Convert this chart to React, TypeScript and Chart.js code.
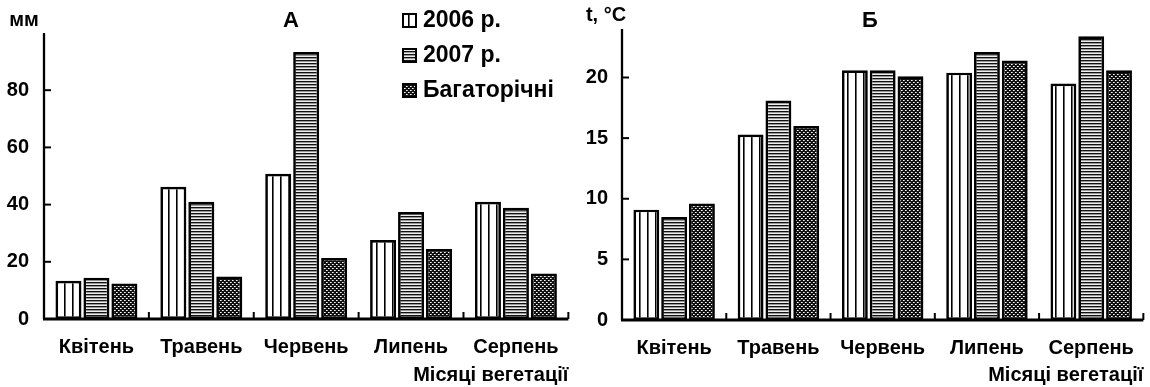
import React, { useEffect, useRef } from 'react';
import { Chart, registerables } from 'chart.js';

Chart.register(...registerables);

const months = ['Квітень', 'Травень', 'Червень', 'Липень', 'Серпень'];
const seriesNames = ['2006 р.', '2007 р.', 'Багаторічні'];

// A: precipitation, mm
const precip2006 = [13.4, 46.2, 50.8, 27.6, 41.0];
const precip2007 = [14.4, 41.0, 93.4, 37.4, 38.9];
const precipNorm = [12.4, 14.9, 21.3, 24.5, 15.9];
const precipTicks = [0, 20, 40, 60, 80];

// Б: temperature, °C
const temp2006 = [9.1, 15.3, 20.6, 20.4, 19.5];
const temp2007 = [8.5, 18.1, 20.6, 22.1, 23.4];
const tempNorm = [9.6, 16.0, 20.1, 21.4, 20.6];
const tempTicks = [0, 5, 10, 15, 20];

const FONT = "'Liberation Sans', Arial, sans-serif";

function makePattern(kind: number): CanvasPattern | string {
  const c = document.createElement('canvas');
  const g = c.getContext('2d');
  if (!g) return '#888';
  if (kind === 0) {
    c.width = 8; c.height = 1;
    g.fillStyle = '#fff'; g.fillRect(0, 0, 8, 1);
    g.fillStyle = '#000'; g.fillRect(0, 0, 1, 1);
    g.fillStyle = '#666'; g.fillRect(1, 0, 1, 1);
  } else if (kind === 1) {
    c.width = 1; c.height = 3;
    g.fillStyle = '#111'; g.fillRect(0, 0, 1, 1);
    g.fillStyle = '#999'; g.fillRect(0, 1, 1, 1);
    g.fillStyle = '#eee'; g.fillRect(0, 2, 1, 1);
  } else {
    c.width = 4; c.height = 4;
    g.fillStyle = '#111'; g.fillRect(0, 0, 4, 4);
    g.fillStyle = '#fff'; g.fillRect(0, 0, 1, 1); g.fillRect(2, 2, 1, 1);
    g.fillStyle = '#aaa'; g.fillRect(1, 0, 1, 1); g.fillRect(3, 2, 1, 1);
  }
  const p = g.createPattern(c, 'repeat');
  return p || '#888';
}

type Texts = { x: number; y: number; text: string; size: number; align?: CanvasTextAlign }[];

function decorPlugin(yTicks: number[], texts: Texts, legend: boolean, patterns: any[]) {
  return {
    id: 'decor',
    afterDraw(chart: any) {
      const { ctx, chartArea } = chart;
      const { left, right, top, bottom } = chartArea;
      const ys = chart.scales.y;
      const xs = chart.scales.x;
      ctx.save();
      ctx.strokeStyle = '#000';
      ctx.lineCap = 'butt';
      // y axis
      ctx.lineWidth = 2.3;
      ctx.beginPath(); ctx.moveTo(left, top); ctx.lineTo(left, bottom); ctx.stroke();
      ctx.lineWidth = 2;
      yTicks.forEach((v) => {
        if (v === 0) return;
        const py = ys.getPixelForValue(v);
        ctx.beginPath(); ctx.moveTo(left, py); ctx.lineTo(left + 7, py); ctx.stroke();
      });
      // x axis
      ctx.lineWidth = 2.8;
      ctx.beginPath(); ctx.moveTo(left - 1, bottom); ctx.lineTo(right, bottom); ctx.stroke();
      ctx.lineWidth = 2;
      for (let i = 1; i <= months.length; i++) {
        const px = xs.getPixelForValue(i - 0.5);
        ctx.beginPath(); ctx.moveTo(px, bottom); ctx.lineTo(px, bottom - 7); ctx.stroke();
      }
      // texts
      ctx.fillStyle = '#000';
      ctx.textBaseline = 'middle';
      texts.forEach((t) => {
        ctx.font = `bold ${t.size}px ${FONT}`;
        ctx.textAlign = t.align || 'center';
        ctx.fillText(t.text, t.x, t.y);
      });
      if (legend) {
        const rows = [20, 55, 90];
        seriesNames.forEach((name, i) => {
          const bx = 402, by = rows[i] - 7, bs = 15;
          ctx.fillStyle = patterns[i];
          ctx.fillRect(bx, by, bs, bs);
          ctx.lineWidth = 2;
          ctx.strokeStyle = '#000';
          ctx.strokeRect(bx + 1, by + 1, bs - 2, bs - 2);
          ctx.fillStyle = '#000';
          ctx.font = `bold 23px ${FONT}`;
          ctx.textAlign = 'left';
          ctx.fillText(name, 423, rows[i] + 1);
        });
      }
      ctx.restore();
    },
  };
}

function buildConfig(
  series: number[][],
  max: number,
  step: number,
  yTicks: number[],
  dims: { yWidth: number; xHeight: number; top: number; right: number; tickPad: number },
  texts: Texts,
  legend: boolean
) {
  const patterns = [makePattern(0), makePattern(1), makePattern(2)];
  return {
    type: 'bar' as const,
    data: {
      labels: months,
      datasets: series.map((d, i) => ({
        label: seriesNames[i],
        data: d,
        backgroundColor: patterns[i],
        borderColor: '#000',
        borderWidth: 2.7,
        borderSkipped: false,
        categoryPercentage: 0.8,
        barPercentage: 0.93,
      })),
    },
    options: {
      responsive: false,
      animation: false,
      events: [],
      layout: { padding: { left: 0, top: dims.top, right: dims.right, bottom: 0 } },
      plugins: { legend: { display: false }, tooltip: { enabled: false }, title: { display: false } },
      scales: {
        x: {
          grid: { display: false, drawTicks: false },
          border: { display: false },
          ticks: { color: '#000', font: { family: FONT, size: 20, weight: 'bold' }, padding: 16, maxRotation: 0, autoSkip: false },
          title: {
            display: true,
            text: 'Місяці вегетації',
            align: 'end',
            color: '#000',
            font: { family: FONT, size: 20, weight: 'bold' },
            padding: { top: 0, bottom: 0 },
          },
          afterFit: (s: any) => { s.height = dims.xHeight; },
        },
        y: {
          min: 0,
          max,
          grid: { display: false, drawTicks: false },
          border: { display: false },
          ticks: { stepSize: step, color: '#000', font: { family: FONT, size: 20, weight: 'bold' }, padding: dims.tickPad },
          afterBuildTicks: (s: any) => { s.ticks = s.ticks.filter((t: any) => yTicks.includes(t.value)); },
          afterFit: (s: any) => { s.width = dims.yWidth; },
        },
      },
    },
    plugins: [decorPlugin(yTicks, texts, legend, patterns)],
  };
}

function ChartCanvas({ cfg }: { cfg: () => any }) {
  const ref = useRef<HTMLCanvasElement | null>(null);
  useEffect(() => {
    if (!ref.current) return;
    const chart = new Chart(ref.current, cfg());
    return () => chart.destroy();
  }, []);
  return <canvas ref={ref} width={575} height={387} style={{ width: 575, height: 387, display: 'block' }} />;
}

export default function App() {
  const cfgA = () =>
    buildConfig(
      [precip2006, precip2007, precipNorm],
      100,
      20,
      precipTicks,
      { yWidth: 44, xHeight: 68, top: 33, right: 4, tickPad: 15 },
      [
        { x: 24, y: 20, text: 'мм', size: 20 },
        { x: 291, y: 21, text: 'А', size: 22 },
      ],
      true
    );
  const cfgB = () =>
    buildConfig(
      [temp2006, temp2007, tempNorm],
      24,
      5,
      tempTicks,
      { yWidth: 47, xHeight: 67, top: 29, right: 1, tickPad: 14 },
      [
        { x: 31, y: 15, text: 't, °C', size: 20 },
        { x: 295, y: 21, text: 'Б', size: 22 },
      ],
      false
    );
  return (
    <div style={{ position: 'fixed', left: 0, top: 0, width: 1150, height: 387, background: '#fff', display: 'flex' }}>
      <ChartCanvas cfg={cfgA} />
      <ChartCanvas cfg={cfgB} />
    </div>
  );
}
